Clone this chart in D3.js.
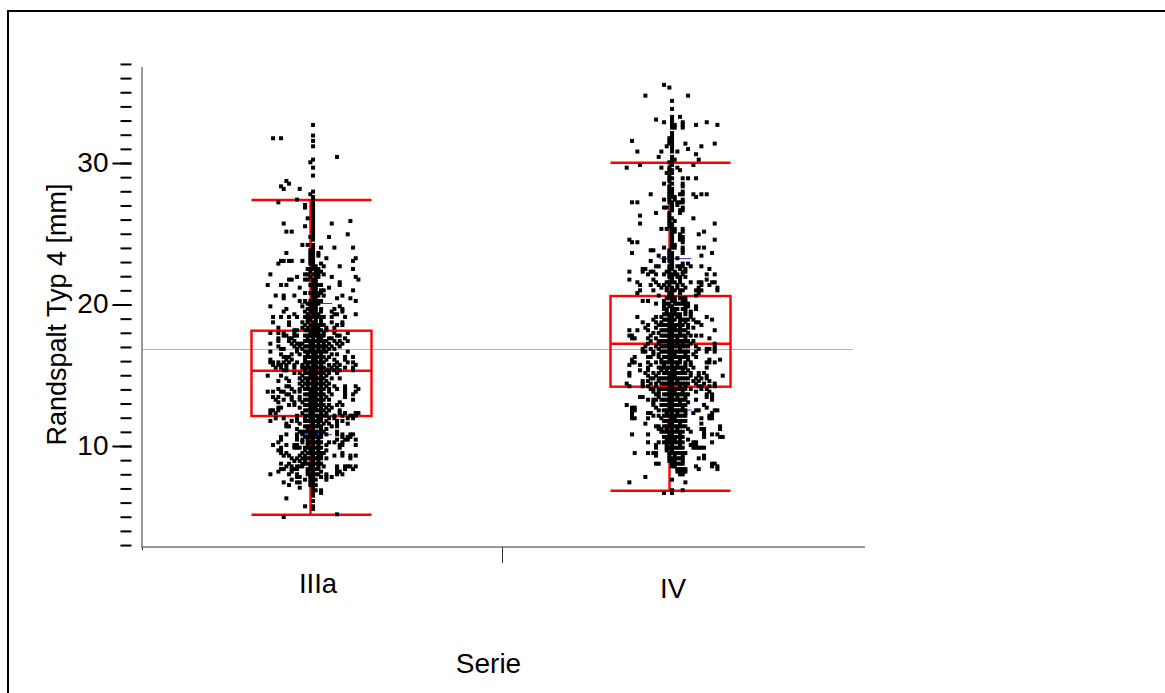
<!DOCTYPE html>
<html>
<head>
<meta charset="utf-8">
<script src="https://cdn.jsdelivr.net/npm/d3@7"></script>
<style>
  html, body { margin: 0; padding: 0; background: #fff; }
  svg { display: block; }
  text { font-family: "Liberation Sans", Arial, sans-serif; fill: #000; }
</style>
</head>
<body>
<div id="vis"></div>
<script>
const FRAME_WIDTH = 1165;
const FRAME_HEIGHT = 693;

const categories = ["IIIa", "IV"];
const yMajorTicks = [10, 20, 30];
const yMinorTicks = d3.range(3, 38);

// box stats: whisker low, q1, median, q3, whisker high
const boxIIIa = [5.14, 12.12, 15.32, 18.15, 27.39];
const boxIV = [6.84, 14.19, 17.23, 20.6, 30.02];
// blue marks: lower, mean, upper
const blueIIIa = [10.8, 15.53, 20.07];
const blueIV = [12.54, 17.77, 23.24];
const grandMean = 16.82;

// dots per row: [value, [jitter, ...]]
const pointsIIIa = [
[32.69,[0]],[31.94,[0]],[31.75,[-15,-12]],[31.56,[0]],[31.18,[0]],[30.43,[9]],[30.24,[0]],[30.05,[-1]],[29.67,[0]],
[29.11,[0]],[28.73,[-10]],[28.54,[-9]],[28.35,[-12]],[28.17,[-11,-5]],[27.98,[0]],[27.79,[-1]],[27.6,[0]],[27.41,[-6,0]],
[27.22,[-13,0]],[27.03,[-3,0]],[26.85,[-3,0]],[26.66,[0]],[26.47,[0]],[26.28,[0]],[26.09,[-2,0]],[25.9,[14,0]],
[25.72,[-11,7,0]],[25.53,[-3,0]],[25.34,[0]],[25.15,[-10,-8,0]],[24.96,[13,0]],[24.77,[-1,6,0]],[24.58,[0]],
[24.21,[-4,-2,0]],[24.02,[3,8,15,0]],[23.83,[0,-1]],[23.64,[-10,-1,2,0]],[23.45,[2,-1,0]],[23.27,[5,16,-1,0]],
[23.08,[-12,-11,-9,-8,-4,15,-1,0]],[22.89,[-13,3,0,-1]],[22.7,[0,4,10,1]],[22.51,[-1,1,15,0]],[22.32,[3,-1,1,2]],
[22.13,[-16,-3,-2,0,2,4,1]],[21.95,[-6,7,16,-1,1]],[21.76,[-9,-8,-3,-2,0,17,1]],[21.57,[1,10,0]],
[21.38,[-17,-12,-10,0,2,10,1]],[21.19,[-5,6,0,1]],[21,[0,3,4,15,1]],[20.81,[-3,1,0,2]],[20.63,[-14,-11,-7,0,2,4,11,1]],
[20.44,[-11,0,9,14,1]],[20.25,[-5,-3,1,3,16,0]],[20.06,[-2,2,0,1,-1]],[19.87,[-4,-16,10,0,1,-1]],
[19.68,[-10,-2,1,8,11,0]],[19.5,[-11,-3,-1,3,7,11,0,1]],[19.31,[-7,-2,2,8,9,16,0,1]],[19.12,[-15,-12,-9,-6,-2,0,2,4,7,12,1,-1]],
[18.74,[-15,-9,-4,-2,0,1,3,7,11]],[18.55,[-9,-1,0,2,9,11]],[18.36,[-13,-4,-2,0,1,2,8,5]],[18.18,[-7,-6,-2,0,1,5]],
[17.99,[-16,-13,-11,-7,-1,0,1,2,4,8,13]],[17.8,[-11,-10,-7,-6,-1,0,1,3,9,10]],[17.61,[-13,-9,-8,-2,0,2,3,6,7,12]],
[17.42,[-13,-9,-7,-3,-1,0,1,3,5,8,10,13]],[17.23,[-16,-8,-6,-5,-4,-1,0,2,4,6,9,11]],[17.04,[-13,-7,-5,-3,0,1,3,5,7,10]],
[16.86,[-12,-11,-6,-4,-1,0,2,4,6,8]],[16.67,[-16,-6,-3,0,1,2,5,13]],[16.48,[-12,-8,-5,-2,0,1,3,7,9]],
[16.29,[-11,-10,-9,-2,-1,0,2,4,6,15,12]],[16.1,[-16,-10,-8,-3,0,1,3,5,8,12]],[15.91,[-16,-15,-13,-11,-9,-6,-1,0,2,4,9,13,15]],
[15.73,[-15,-13,-12,-10,-7,-4,-2,0,1,3,6,8,10,16]],[15.54,[-14,-12,-10,-7,-4,-1,0,2,4,7,9,12,15]],
[15.35,[-11,-10,-3,-1,0,1,3,5,6,8,10,15]],[15.16,[-7,-5,-2,0,2,3,6,9]],[14.97,[-17,-12,-4,-1,0,1,3,5]],
[14.78,[-10,-5,-3,0,2,4,7,10]],[14.59,[-13,-9,-4,-2,0,1,3,5]],[14.41,[-5,-3,-1,0,2,6]],[14.22,[-10,-9,-4,-2,0,1,3,5,8,12,16]],
[14.03,[-13,-8,-5,-3,0,2,4,6,9,12,17]],[13.84,[-17,-15,-12,-11,-7,-5,-1,0,1,3,6,12,16]],[13.65,[-9,-10,-3,-2,0,2,4,7,12,15]],
[13.46,[-15,-13,-8,-5,-1,0,1,3,5,12]],[13.27,[-14,-11,-8,-5,-3,-2,0,2,4,6,15]],[13.09,[-13,-7,-4,-1,0,1,3,10]],
[12.9,[-9,-7,-2,0,2,4,6,9,11]],[12.71,[-12,-13,-5,-1,0,1,3,5,7]],[12.52,[-16,-15,-13,-2,0,2,4,6,10]],
[12.33,[-16,-14,-4,-1,0,3,5,10,12,17,16]],[12.14,[-6,-2,0,1,3,5,8,11,14,16,15]],[11.96,[-14,-11,-6,-3,-1,0,2,3,6,8,13,15]],
[11.77,[-16,-8,-6,-2,0,1,5,9,11]],[11.58,[-10,-5,0,2,4,6,9,13]],[11.39,[-10,-9,-3,0,1,7,9]],[11.2,[-6,-2,0,3,5]],
[11.01,[-5,-4,-1,0,2,4,9]],[10.82,[-10,-6,-4,-1,0,1,3,5,9,11,14,15]],[10.64,[-12,-6,-3,0,1,11,13,14]],
[10.45,[-12,-6,-4,-2,0,2,9,12,13,16]],[10.26,[-13,-4,-1,0,1,3,6,8,11]],[10.07,[-15,-10,-7,-6,-2,0,2,5,10,11,16]],
[9.88,[-12,-7,-6,-5,-3,-1,0,1,10]],[9.69,[-13,-12,-3,-1,0,2,5]],[9.5,[-12,-10,-4,-2,0,1,4,11]],
[9.32,[-11,-9,-5,-3,0,2,3,8,11,14,16]],[9.13,[-8,-6,-4,-1,0,1,5,14]],[8.94,[-7,-5,-3,0,2]],[8.75,[-12,-9,-4,-2,-1,0,1,3]],
[8.56,[-10,-8,-6,-5,-4,-1,0,2,4,9,16,14,13,12]],[8.37,[-12,-11,-8,-7,-6,-1,0,1,12,15,9]],[8.19,[-13,-8,-2,0,3,10,9]],
[8,[-16,-9,-6,-1,0,1,9,11,5]],[7.81,[-6,-5,-1,0,3,5,7]],[7.62,[-8,-3,-1,0,5]],[7.43,[-11,-6,-5,-1,0]],[7.24,[-9,-1,0]],
[7.05,[-5,0]],[6.87,[0,1,3]],[6.68,[0,3]],[6.49,[0]],[6.3,[-10]],[6.11,[0]],[5.74,[-3,0]],[5.55,[0]],[5.17,[9]],[4.98,[-11]]
];

// the solid core of the IIIa column, too dense to separate dot by dot
const coreIIIa = [
[22.51,[2,-2]],[21.95,[2,-1]],[21.38,[-1,3]],[20.81,[-1,3]],[20.25,[-1,2]],[19.68,[-1,3]],[19.12,[3,-3]],
[18.93,[-2,-1,1,3]],[18.55,[-3,1,3,4]],[18.18,[-3,-1,2,3]],[17.8,[-3,-2,2,4]],[17.42,[-2,2,4]],[17.04,[-2,-1,2,4]],
[16.67,[-2,-1,3,4]],[16.29,[-3,1,3]],[15.91,[-3,-2,1,3]],[15.54,[-3,-2,1,3]],[15.16,[-3,-1,1,4]],[14.78,[-2,-1,1,3]],
[14.41,[-2,1,3,4]],[14.03,[-2,-1,1,3]],[13.65,[-1,1,3]],[13.27,[-1,1,3]],[12.9,[-3,-1,1,3]],[12.52,[-3,-1,1,3]],
[12.14,[-3,-1,2,4]],[11.77,[-3,-1,2,3]],[11.39,[-2,-1,2,3]],[11.01,[-3,-2,1,3]],[10.64,[-2,-1,2,3]],[10.26,[-2,2]],
[9.88,[-2,2,3]],[9.5,[-1,2,3]],[9.13,[-3,-2,2,3]],[8.75,[-3,2]],[8.37,[-2,2]],[8,[-2,2]],[7.62,[1]],[7.24,[1]]
];

const pointsIV = [
[35.52,[-3]],[35.33,[-1]],[34.76,[-10,6]],[34.39,[0]],[33.82,[0]],[33.26,[0,3]],[33.07,[-6,0]],[32.88,[-3,4,0,13]],
[32.69,[0,1,4,9,17]],[32.5,[0,1,4]],[32.12,[0]],[31.94,[0]],[31.75,[0,-1]],[31.56,[-15,-1,0]],[31.37,[5,16,-1,0]],
[31.18,[-2,11,0]],[30.99,[6,0]],[30.81,[-13,-4,2,0]],[30.62,[9]],[30.43,[-5,0]],[30.24,[0,1,10]],[30.05,[-1,0]],
[29.86,[-12,8,0]],[29.67,[-17,-4,2,-1]],[29.49,[-1,3,0]],[29.3,[-2,0]],[29.11,[-1]],[28.92,[4,6,9,-1,0]],[28.73,[-1]],
[28.54,[-3,4,0]],[28.35,[4,-1]],[28.17,[0,-1]],[27.98,[0,-1,4]],[27.79,[-8,4,3,8,11,13,-1,0]],[27.6,[9,0,-1,1]],
[27.41,[-3,-1,1,4]],[27.22,[-15,-13,2,3,4,0,-1]],[27.03,[2,0]],[26.85,[-3,-2,0,4]],[26.66,[4,3,0]],[26.47,[-6,3,-1]],
[26.28,[-12,-1]],[26.09,[8,-1,0]],[25.9,[1,-1]],[25.72,[-12,16,-1,0]],[25.53,[0,-1]],[25.34,[-4,-2,0,1,4]],
[25.15,[12,4,1,0]],[24.96,[10,3,0]],[24.77,[4,3,0]],[24.58,[-16,16,4,3,0]],[24.4,[-15,-13,4,0]],[24.21,[1,0]],
[24.02,[-3,0,1,4,10,12]],[23.83,[-8,-7,-1,4]],[23.64,[-15,15,0,-1,4]],[23.45,[-5,11,-1,0]],[23.27,[-3,-1,0,2]],
[23.08,[-8,-3,-1,0]],[22.89,[4,6,0]],[22.7,[-5,-6,7,11,0,-1,2,3,4]],[22.51,[-11,-10,-1,0,3,5,14]],
[22.32,[-16,-11,-8,-7,-2,-1,1,5,4]],[22.13,[-9,-6,-3,-1,0,13,16,4]],[21.95,[5,2,-1,0,3]],[21.76,[-16,-7,3,0,13]],
[21.57,[-13,-6,10,7,11,15,16,-1,0,3]],[21.38,[-12,-8,-5,-3,-1,2,4,11,14]],[21.19,[-4,-2,0,2,5,10,17]],
[21,[-12,-7,0,3,4,9,10,11,17]],[20.81,[-13,-1,0,3,10]],[20.63,[-5,-1,0,9]],[20.44,[-1,0,1,5]],[20.25,[-11,-9,-3,0,1,4,5]],
[20.06,[-6,-2,-1,1,4,5,6]],[19.87,[-3,-1,0,5,6,9]],[19.68,[9,-3,0,2,4]],[19.5,[-2,0,1,5,7]],[19.31,[7,5,-1,0,1]],
[19.12,[-13,-6,-4,-1,0,2,3,7,13]],[18.93,[-7,-2,0,1,5,8,15]],[18.74,[-11,-6,-4,-1,0,3,5,9,10]],[18.55,[-9,-5,-2,0,2,4,11,-4]],
[18.36,[-10,-6,-1,0,1,3,6,8]],[18.18,[-16,-13,-9,-2,0,2,4,16]],[17.99,[-5,-7,-1,0,3,6]],[17.8,[-16,-15,-8,-3,0,1,4,7,9,11]],
[17.61,[-15,-14,-9,-6,-1,0,2,5,14]],[17.42,[-8,-4,-2,0,1,3,8,6]],[17.23,[-9,-5,-1,0,2,4,7,16]],[17.04,[-10,-6,-3,0,1,5,9,16]],
[16.86,[-11,-8,-5,-1,0,3,10,13,14,16]],[16.67,[-11,-10,-7,-2,0,2,4,9,13,16]],[16.48,[-7,-5,-1,0,1,5,8]],
[16.29,[-14,-9,-8,-3,0,2,4,9]],[16.1,[-15,-4,-1,0,3,6,18,14]],[15.91,[-15,-14,-9,-6,-2,0,1,13,14,16]],
[15.73,[-16,-12,-8,-3,0,2,5,7]],[15.54,[-9,-5,-1,0,3,8,13]],[15.35,[-12,-9,-4,-2,0,1,4,6]],[15.16,[-16,-10,-7,-3,0,2,5,12,10]],
[14.97,[-16,-9,-6,-1,0,1,7,19,10,13]],[14.78,[-8,-7,-4,-2,0,3,6,9,11,13]],[14.59,[-11,-9,-5,-1,0,2,8,10,14]],
[14.41,[-17,-11,-8,-3,0,1,4,6,9,12,16]],[14.22,[-16,-11,-9,-6,-1,0,3,5,10,16,14,11]],[14.03,[-8,-7,-2,0,2,7,11,13]],
[13.84,[-7,-5,-1,0,1,4,9,14]],[13.65,[-6,-3,0,3,6,13,15]],[13.46,[-12,-11,-5,-1,0,2,5,13,15]],[13.27,[-7,-9,-6,-3,0,1,9,15]],
[13.09,[-7,-1,0,3,6]],[12.9,[-17,-7,-2,0,2,12]],[12.71,[-15,-14,-6,-1,0,4,13]],[12.52,[-15,-14,-5,-3,0,1,3,10,17,16,9]],
[12.33,[-15,-9,-8,-2,0,2,5,8,15]],[12.14,[-15,-7,-5,-1,0,3,14,15]],[11.96,[-15,-14,-9,-4,0,1,11,15,14]],[11.77,[-3,0,2,5]],
[11.58,[-10,-1,0,3,11]],[11.39,[-6,-5,-1,0,2,5,18]],[11.2,[-5,-4,-2,0,2,6,11,12,18]],[11.01,[-4,-3,-1,0,1,7,12]],
[10.82,[-15,-9,-1,0,3,12,15,17]],[10.64,[-3,-2,0,2,12,18,19]],[10.45,[-2,-1,0,1,3,6]],[10.26,[-9,-5,-3,-2,0,2,9,8,15]],
[10.07,[-6,-2,0,3,8,7,9]],[9.88,[-6,-1,0,1,8,9,10,11,12]],[9.69,[-2,0]],[9.5,[-14,-9,-7,-6,-1,0,4,5]],[9.32,[-6,-1,1,4,12]],
[9.13,[-1,0,3,4,10,12]],[8.94,[-1,0,1,4]],[8.75,[-6,-5,1,3,15,16]],[8.56,[0,1,9,15,17]],[8.37,[2,3,4,5,17,10]],
[8.19,[2,3,4,5]],[8,[3,4]],[7.81,[-10]],[7.62,[0]],[7.43,[-16,5]],[6.87,[4,0]],[6.68,[-3,0]]
];

// the solid core of the IV column
const coreIV = [
[22.13,[1,2]],[21.57,[-2,1]],[21,[-2,1]],[20.44,[-2,3,4]],[20.06,[-3,2,3]],[19.68,[-2,1,5]],[19.31,[-3,-2,2,3]],
[18.93,[-3,-1,3,4,6]],[18.55,[-3,-1,1,3,6]],[18.18,[-4,-3,-1,1,3,5]],[17.8,[-4,-2,-1,2,3,5]],[17.42,[-5,-3,-1,2,4,5]],
[17.04,[-4,-2,-1,2,3,4,6]],[16.67,[-4,-3,-1,1,3,5,6]],[16.29,[-5,-2,-1,1,3,5,6]],[15.91,[-4,-3,-1,2,3,5,7]],
[15.54,[-4,-3,-2,1,2,4,5]],[15.16,[-5,-2,-1,1,3,4,7]],[14.78,[-5,-3,-1,1,2,4,5]],[14.41,[-6,-4,-2,-1,2,3,5]],
[14.03,[-5,-4,-3,-1,1,3,4,5]],[13.65,[-5,-2,-1,1,2,4,5]],[13.27,[-4,-2,-1,2,3,4,5]],[12.9,[-4,-3,-1,1,3,4,5]],
[12.52,[-2,-1,2,4,5]],[12.14,[-3,-2,1,2,4,5]],[11.77,[-2,-1,1,3,4]],[11.39,[-3,-2,1,3,4]],[11.01,[-2,2,3,4]],
[10.64,[-1,1,3,4]],[10.26,[-1,1,3,4]],[9.88,[-2,2,3,4]],[9.5,[1,2,3]],[9.13,[1,2]],[8.75,[0,2,4]]
];

const SVG = d3.select("#vis")
  .append("svg")
    .attr("width", FRAME_WIDTH)
    .attr("height", FRAME_HEIGHT);

const Y_SCALE = d3.scaleLinear().domain([10, 30]).range([446, 163]);
const X_SCALE = d3.scalePoint().domain(categories).range([311.5, 670.5]);
const JITTER = d3.scaleLinear().domain([-20, 20]).range([-51.8, 54.9]);
const BOX_HALF = 60;
const DOT = 4;

// outer frame, cut off by the window on the right and at the bottom
SVG.append("path")
  .attr("d", "M8,693V11H1165")
  .attr("fill", "none").attr("stroke", "#000").attr("stroke-width", 2);

// axes
SVG.append("line").attr("x1", 142).attr("x2", 142).attr("y1", 67).attr("y2", 548)
  .attr("stroke", "#777").attr("stroke-width", 1.5);
SVG.append("line").attr("x1", 143).attr("x2", 865).attr("y1", 547).attr("y2", 547)
  .attr("stroke", "#333").attr("stroke-width", 1);
SVG.append("line").attr("x1", 502.5).attr("x2", 502.5).attr("y1", 547).attr("y2", 563)
  .attr("stroke", "#333").attr("stroke-width", 1);
SVG.append("line").attr("x1", 142.5).attr("x2", 142.5).attr("y1", 547).attr("y2", 550)
  .attr("stroke", "#333").attr("stroke-width", 1);

const minorAxis = SVG.append("g")
  .attr("transform", "translate(131.5,0)")
  .call(d3.axisLeft(Y_SCALE).tickValues(yMinorTicks).tickSize(11).tickFormat(""));
const majorAxis = SVG.append("g")
  .attr("transform", "translate(131.5,0)")
  .call(d3.axisLeft(Y_SCALE).tickValues(yMajorTicks).tickSize(19).tickPadding(4).tickFormat(d3.format("d")));
minorAxis.select(".domain").remove();
majorAxis.select(".domain").remove();
SVG.selectAll(".tick line").attr("stroke", "#000").attr("stroke-width", 2);
majorAxis.selectAll("text")
  .attr("font-size", 28)
  .attr("font-family", "Liberation Sans")
  .attr("dy", "0.29em");

// grand mean line
SVG.append("line")
  .attr("x1", 143).attr("x2", 853)
  .attr("y1", Y_SCALE(grandMean)).attr("y2", Y_SCALE(grandMean))
  .attr("stroke", "#b4b4b4").attr("stroke-width", 1);

const groups = [
  {name: "IIIa", box: boxIIIa, blue: blueIIIa, points: pointsIIIa.concat(coreIIIa), blueAt: 4.5},
  {name: "IV", box: boxIV, blue: blueIV, points: pointsIV.concat(coreIV), blueAt: 5}
];

groups.forEach((g) => {
  const cx = X_SCALE(g.name);
  const [lo, q1, med, q3, hi] = g.box;
  const red = SVG.append("g").attr("stroke", "#f00").attr("stroke-width", 2.4).attr("fill", "none");
  red.append("rect")
    .attr("x", cx - BOX_HALF).attr("width", BOX_HALF * 2)
    .attr("y", Y_SCALE(q3)).attr("height", Y_SCALE(q1) - Y_SCALE(q3));
  [lo, med, hi].forEach((v) => {
    red.append("line").attr("x1", cx - BOX_HALF).attr("x2", cx + BOX_HALF)
      .attr("y1", Y_SCALE(v)).attr("y2", Y_SCALE(v));
  });
  red.append("line").attr("x1", cx - 1).attr("x2", cx - 1).attr("y1", Y_SCALE(hi)).attr("y2", Y_SCALE(q3));
  red.append("line").attr("x1", cx - 1).attr("x2", cx - 1).attr("y1", Y_SCALE(q1)).attr("y2", Y_SCALE(lo));

  SVG.append("g").selectAll("line").data(g.blue).enter().append("line")
    .attr("x1", cx + g.blueAt - 16).attr("x2", cx + g.blueAt + 16)
    .attr("y1", (d) => Y_SCALE(d)).attr("y2", (d) => Y_SCALE(d))
    .attr("stroke", "#3a2fe0").attr("stroke-width", 1);

  const dots = g.points.flatMap((row) => row[1].map((j) => ({value: row[0], jitter: j})));
  SVG.append("g").selectAll("rect").data(dots).enter().append("rect")
    .attr("x", (d) => cx + JITTER(d.jitter) - DOT / 2)
    .attr("y", (d) => Y_SCALE(d.value) - DOT / 2)
    .attr("width", DOT).attr("height", DOT)
    .attr("fill", "#000");
});

// labels
SVG.append("text").attr("x", 318).attr("y", 592.7).attr("text-anchor", "middle").attr("font-size", 27.5).text("IIIa");
SVG.append("text").attr("x", 673).attr("y", 597.7).attr("text-anchor", "middle").attr("font-size", 27.5).text("IV");
SVG.append("text").attr("x", 488.5).attr("y", 673).attr("text-anchor", "middle").attr("font-size", 28).text("Serie");
SVG.append("text")
  .attr("transform", "translate(66,314.5) rotate(-90)")
  .attr("text-anchor", "middle").attr("font-size", 27)
  .text("Randspalt Typ 4 [mm]");
</script>
</body>
</html>
